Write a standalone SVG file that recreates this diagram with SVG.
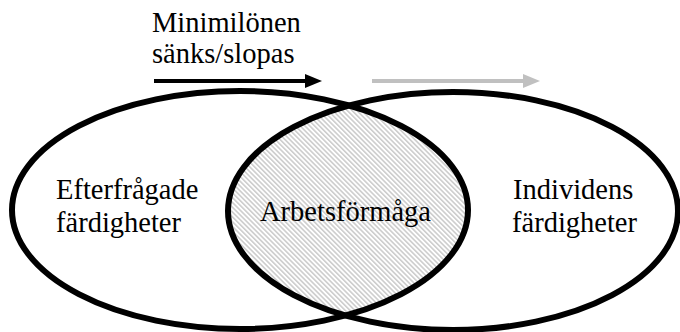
<svg xmlns="http://www.w3.org/2000/svg" width="680" height="332" viewBox="0 0 680 332">
<style>
.t{font-family:'Liberation Serif','Times New Roman',serif;font-size:28.5px;fill:#000}
.ell{fill:none;stroke:#000;stroke-width:6}
</style>
<defs>
<pattern id="hatch" patternUnits="userSpaceOnUse" width="3.4" height="3.4" patternTransform="rotate(-45)">
<rect width="3.4" height="3.4" fill="#fff"/>
<line x1="0.8" y1="0" x2="0.8" y2="3.4" stroke="#c6c6c6" stroke-width="1.4"/>
</pattern>
<clipPath id="clipR"><ellipse cx="453" cy="211" rx="225" ry="119"/></clipPath>
<marker id="headB" markerUnits="userSpaceOnUse" markerWidth="18" markerHeight="16" refX="0" refY="7" orient="auto"><path d="M0,0 L17,7 L0,14 Z" fill="#000"/></marker>
<marker id="headG" markerUnits="userSpaceOnUse" markerWidth="18" markerHeight="16" refX="0" refY="7" orient="auto"><path d="M0,0 L17,7 L0,14 Z" fill="#c0c0c0"/></marker>
</defs>
<rect width="680" height="332" fill="#fff"/>
<g id="overlap">
<ellipse cx="240" cy="210" rx="228" ry="119" fill="url(#hatch)" clip-path="url(#clipR)"/>
</g>
<g id="efterfragade">
<ellipse class="ell" cx="240" cy="210" rx="228" ry="119"/>
<text class="t" x="56" y="199">Efterfrågade</text>
<text class="t" x="56" y="232">färdigheter</text>
</g>
<g id="individens">
<ellipse class="ell" cx="453" cy="211" rx="225" ry="119"/>
<text class="t" x="513" y="199">Individens</text>
<text class="t" x="512" y="232">färdigheter</text>
</g>
<g id="arbetsformaga">
<text class="t" x="260" y="221">Arbetsförmåga</text>
</g>
<g id="label">
<text class="t" x="152" y="32">Minimilönen</text>
<text class="t" x="152" y="63">sänks/slopas</text>
</g>
<g id="connectors">
<line x1="154" y1="81" x2="305" y2="81" stroke="#000" stroke-width="4" marker-end="url(#headB)"/>
<line x1="372" y1="81" x2="523" y2="81" stroke="#c0c0c0" stroke-width="4" marker-end="url(#headG)"/>
</g>
</svg>
